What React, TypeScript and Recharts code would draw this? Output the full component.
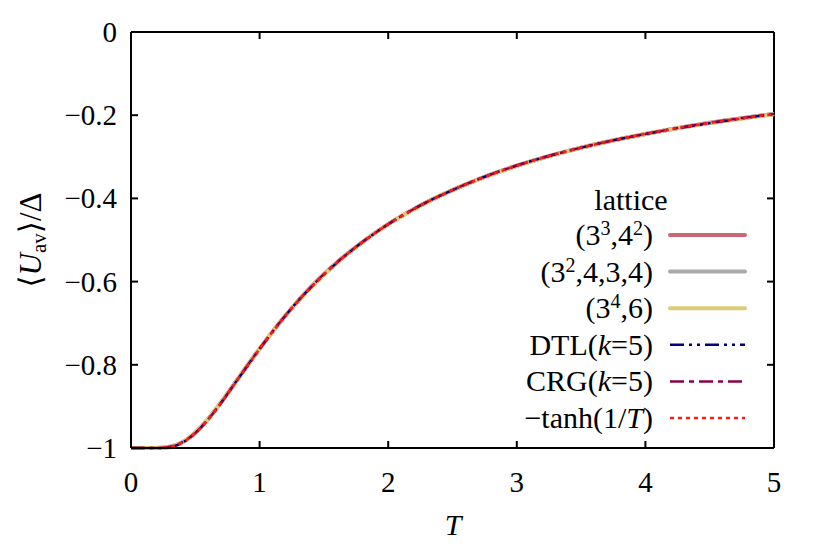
import { LineChart, Line, XAxis, YAxis, ReferenceLine } from "recharts";

const FONT = "'Liberation Serif', 'DejaVu Serif', serif";

// plot box size in px, only used to turn the 7px tick length into axis units
const PLOT_W = 643;
const PLOT_H = 416;
const TICK_LEN = 7;

// temperatures
const T = [0, 0.1, 0.2, 0.3, 0.4, 0.5, 0.6, 0.7, 0.8, 0.9, 1.0, 1.2, 1.4, 1.6, 1.8, 2.0, 2.25, 2.5, 2.75, 3.0, 3.5, 4.0, 4.5, 5.0];

// <U_av>/Delta per lattice (all curves coincide within line width)
const U_3344 = [-1, -1, -1, -0.997, -0.986, -0.963, -0.930, -0.890, -0.847, -0.804, -0.761, -0.682, -0.613, -0.554, -0.505, -0.462, -0.417, -0.380, -0.348, -0.321, -0.278, -0.245, -0.218, -0.197];
const U_32434 = [-1, -1, -1, -0.998, -0.987, -0.964, -0.931, -0.891, -0.848, -0.804, -0.762, -0.682, -0.613, -0.555, -0.505, -0.462, -0.417, -0.380, -0.348, -0.322, -0.278, -0.245, -0.219, -0.197];
const U_346 = [-1, -1, -1, -0.997, -0.986, -0.963, -0.930, -0.890, -0.848, -0.804, -0.761, -0.682, -0.614, -0.555, -0.505, -0.462, -0.418, -0.380, -0.349, -0.322, -0.278, -0.245, -0.219, -0.198];
const U_DTL = [-1, -1, -1, -0.998, -0.987, -0.964, -0.931, -0.892, -0.848, -0.805, -0.762, -0.682, -0.613, -0.555, -0.505, -0.462, -0.417, -0.380, -0.348, -0.321, -0.278, -0.245, -0.219, -0.197];
const U_CRG = [-1, -1, -1, -0.997, -0.986, -0.964, -0.931, -0.891, -0.848, -0.804, -0.761, -0.682, -0.613, -0.554, -0.505, -0.462, -0.417, -0.380, -0.348, -0.321, -0.278, -0.245, -0.218, -0.197];
const U_TANH = [-1, -1, -1, -0.9975, -0.9866, -0.964, -0.9311, -0.8915, -0.8483, -0.8045, -0.7616, -0.6823, -0.6134, -0.5546, -0.5047, -0.4621, -0.4173, -0.3799, -0.3484, -0.3215, -0.2782, -0.2449, -0.2186, -0.1974];

const X_TICKS = [0, 1, 2, 3, 4, 5];
const Y_TICKS = [-1, -0.8, -0.6, -0.4, -0.2, 0];
const X_DOMAIN = [0, 5];
const Y_DOMAIN = [-1, 0];

const data = T.map((t, i) => ({
  t,
  a: U_3344[i],
  b: U_32434[i],
  c: U_346[i],
  dtl: U_DTL[i],
  crg: U_CRG[i],
  tanh: U_TANH[i],
}));

type Seg = { s: string; sup?: boolean; it?: boolean };

const SERIES: { key: string; label: Seg[]; color: string; width: number; dash?: string }[] = [
  { key: "a", label: [{ s: "(3" }, { s: "3", sup: true }, { s: ",4" }, { s: "2", sup: true }, { s: ")" }], color: "#cc6677", width: 4 },
  { key: "b", label: [{ s: "(3" }, { s: "2", sup: true }, { s: ",4,3,4)" }], color: "#aaaaaa", width: 4 },
  { key: "c", label: [{ s: "(3" }, { s: "4", sup: true }, { s: ",6)" }], color: "#ddcc77", width: 4 },
  { key: "dtl", label: [{ s: "DTL(" }, { s: "k", it: true }, { s: "=5)" }], color: "#00007f", width: 2.5, dash: "14 5 3 5 3 5" },
  { key: "crg", label: [{ s: "CRG(" }, { s: "k", it: true }, { s: "=5)" }], color: "#8b0048", width: 2.5, dash: "14 5 5 5" },
  { key: "tanh", label: [{ s: "\u2212tanh(1/" }, { s: "T", it: true }, { s: ")" }], color: "#ff1a1a", width: 2.5, dash: "4 4" },
];

function renderLabel(segs: Seg[]) {
  const out: any[] = [];
  let raised = false;
  segs.forEach((g, i) => {
    let dy = 0;
    if (g.sup && !raised) { dy = -10; raised = true; }
    else if (!g.sup && raised) { dy = 10; raised = false; }
    out.push(
      <tspan key={i} dy={dy || undefined} fontSize={g.sup ? 20 : undefined} fontStyle={g.it ? "italic" : undefined}>
        {g.s}
      </tspan>
    );
  });
  return out;
}

// legend and axis titles, laid over the chart
function Overlay() {
  const textX = 653;
  const x0 = 670;
  const x1 = 745;
  const top = 235;
  const step = 36.6;
  const cx = 34;
  const cy = 240;
  return (
    <svg width={822} height={548} style={{ position: "absolute", left: 0, top: 0, pointerEvents: "none" }}>
      <text x={453} y={535} textAnchor="middle" fontFamily={FONT} fontSize={30} fontStyle="italic" fill="#000">T</text>
      <text x={cx} y={cy} transform={`rotate(-90, ${cx}, ${cy})`} textAnchor="middle" dominantBaseline="middle" fontFamily={FONT} fontSize={31} fill="#000">
        {"\u27e8"}
        <tspan fontStyle="italic">U</tspan>
        <tspan fontSize={21} dy={7}>av</tspan>
        <tspan dy={-7}>{"\u27e9/\u0394"}</tspan>
      </text>
      <text x={631} y={210} textAnchor="middle" fontFamily={FONT} fontSize={30} fill="#000">lattice</text>
      {SERIES.map((s, i) => {
        const y = top + i * step;
        return (
          <g key={s.key}>
            <text x={textX} y={y + 10} textAnchor="end" fontFamily={FONT} fontSize={30} fill="#000">
              {renderLabel(s.label)}
            </text>
            <line x1={x0} x2={x1} y1={y} y2={y} stroke={s.color} strokeWidth={s.width} strokeDasharray={s.dash} strokeLinecap={s.dash ? "butt" : "round"} />
          </g>
        );
      })}
    </svg>
  );
}

const fmtY = (v: number) => (v === 0 ? "0" : "\u2212" + String(Math.abs(v)));

const BottomTick = ({ x, y, payload }: any) => (
  <text x={x} y={+y + 44} textAnchor="middle" fontFamily={FONT} fontSize={29} fill="#000">{payload.value}</text>
);
const LeftTick = ({ x, y, payload }: any) => (
  <text x={+x - 14} y={+y + 10} textAnchor="end" fontFamily={FONT} fontSize={29} fill="#000">{fmtY(payload.value)}</text>
);

// tick length in axis units
const dx = (TICK_LEN * (X_DOMAIN[1] - X_DOMAIN[0])) / PLOT_W;
const dy = (TICK_LEN * (Y_DOMAIN[1] - Y_DOMAIN[0])) / PLOT_H;
const tickSegs: { x: number; y: number }[][] = [
  ...X_TICKS.map((v) => [{ x: v, y: Y_DOMAIN[0] }, { x: v, y: Y_DOMAIN[0] + dy }]),
  ...X_TICKS.map((v) => [{ x: v, y: Y_DOMAIN[1] }, { x: v, y: Y_DOMAIN[1] - dy }]),
  ...Y_TICKS.map((v) => [{ x: X_DOMAIN[0], y: v }, { x: X_DOMAIN[0] + dx, y: v }]),
  ...Y_TICKS.map((v) => [{ x: X_DOMAIN[1], y: v }, { x: X_DOMAIN[1] - dx, y: v }]),
];

export default function App() {
  return (
    <div style={{ position: "absolute", left: 0, top: 0, width: 822, height: 548, background: "#fff" }}>
      <LineChart width={822} height={548} data={data} margin={{ top: 32, right: 48, left: 0, bottom: 0 }}>
        <XAxis
          dataKey="t"
          type="number"
          domain={X_DOMAIN}
          ticks={X_TICKS}
          height={100}
          stroke="#000"
          strokeWidth={2}
          tickLine={false}
          tickSize={0}
          tickMargin={0}
          tick={<BottomTick />}
          interval={0}
        />
        <YAxis
          type="number"
          domain={Y_DOMAIN}
          ticks={Y_TICKS}
          width={131}
          stroke="#000"
          strokeWidth={2}
          tickLine={false}
          tickSize={0}
          tickMargin={0}
          tick={<LeftTick />}
          interval={0}
        />
        {/* top and right frame */}
        <ReferenceLine y={Y_DOMAIN[1]} stroke="#000" strokeWidth={2} ifOverflow="visible" />
        <ReferenceLine x={X_DOMAIN[1]} stroke="#000" strokeWidth={2} ifOverflow="visible" />
        {/* inward ticks on all four sides */}
        {tickSegs.map((seg, i) => (
          <ReferenceLine key={i} segment={seg} stroke="#000" strokeWidth={2} ifOverflow="visible" />
        ))}
        {SERIES.map((s) => (
          <Line
            key={s.key}
            type="monotone"
            dataKey={s.key}
            stroke={s.color}
            strokeWidth={s.width}
            strokeDasharray={s.dash}
            dot={false}
            isAnimationActive={false}
          />
        ))}
      </LineChart>
      <Overlay />
    </div>
  );
}
